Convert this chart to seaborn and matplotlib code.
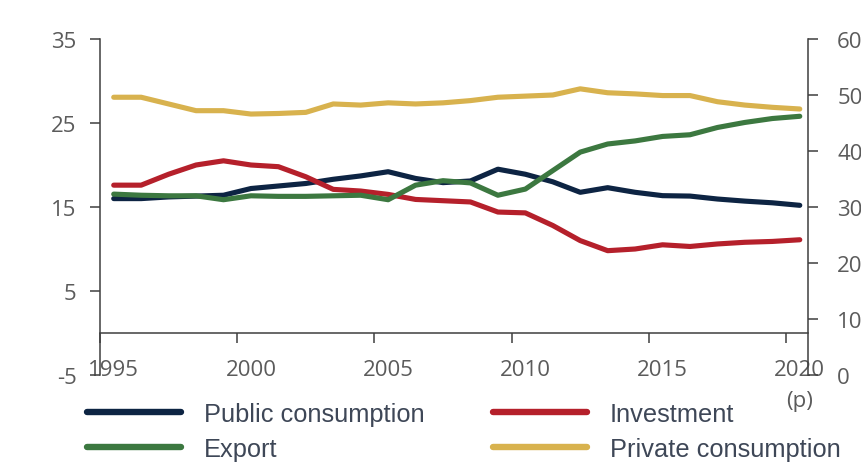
import numpy as np
import matplotlib
matplotlib.use("Agg")
import matplotlib.pyplot as plt
import seaborn as sns

# Annual series, 1995-2020 (2020 provisional)
years = list(range(1995, 2021))
public_consumption = [16.0, 16.0, 16.2, 16.3, 16.4, 17.2, 17.5, 17.8, 18.3, 18.7,
                      19.2, 18.4, 17.9, 18.1, 19.5, 18.9, 18.0, 16.75, 17.3, 16.75,
                      16.35, 16.3, 15.95, 15.7, 15.5, 15.2]
investment = [17.6, 17.6, 18.9, 20.0, 20.5, 20.0, 19.8, 18.6, 17.1, 16.9,
              16.5, 15.9, 15.75, 15.6, 14.4, 14.3, 12.8, 11.0, 9.8, 10.0,
              10.5, 10.3, 10.6, 10.8, 10.9, 11.1]
export = [32.3, 32.1, 32.0, 32.0, 31.3, 32.0, 31.9, 31.9, 32.0, 32.1,
          31.3, 33.9, 34.7, 34.3, 32.1, 33.2, 36.5, 39.8, 41.25, 41.8,
          42.6, 42.9, 44.2, 45.1, 45.8, 46.2]
private_consumption = [49.6, 49.6, 48.4, 47.2, 47.2, 46.6, 46.7, 46.9, 48.4, 48.2,
                       48.6, 48.4, 48.6, 49.0, 49.6, 49.8, 50.0, 51.1, 50.4, 50.2,
                       49.9, 49.9, 48.8, 48.2, 47.8, 47.5]

tick_years = [1995, 2000, 2005, 2010, 2015, 2020]
tick_labels = ["1995", "2000", "2005", "2010", "2015", "2020\n(p)"]
left_ticks = [-5, 5, 15, 25, 35]
right_ticks = [0, 10, 20, 30, 40, 50, 60]

NAVY = "#0d2443"
RED = "#b5202b"
GREEN = "#3c7840"
GOLD = "#d8b24e"
SPINE = "#3f3f3f"
TICK_TXT = "#5b5b5b"
LEGEND_TXT = "#3e4757"

sns.set_style("white")
plt.rcParams["font.family"] = ["Open Sans", "DejaVu Sans"]
plt.rcParams["axes.unicode_minus"] = False

fig = plt.figure(figsize=(8.61, 4.64), dpi=100)
W, H = 861, 464
ax = fig.add_axes([100 / W, 1 - 376 / H, (808 - 100) / W, (376 - 40) / H])
ax2 = ax.twinx()

# values are annual averages, plotted at mid-year
xpos = [y + 0.5 for y in years]
lw = 3.7
sns.lineplot(x=xpos, y=public_consumption, ax=ax, color=NAVY, linewidth=lw,
             solid_capstyle="round", label="Public consumption", legend=False)
sns.lineplot(x=xpos, y=investment, ax=ax, color=RED, linewidth=lw,
             solid_capstyle="round", label="Investment", legend=False)
sns.lineplot(x=xpos, y=export, ax=ax2, color=GREEN, linewidth=lw,
             solid_capstyle="round", label="Export", legend=False)
sns.lineplot(x=xpos, y=private_consumption, ax=ax2, color=GOLD, linewidth=lw,
             solid_capstyle="round", label="Private consumption", legend=False)

ax.set_xlim(1995, 2020.8)
ax.set_ylim(-5, 35)
ax2.set_ylim(0, 60)

for a in (ax, ax2):
    a.set_facecolor("none")
    for s in a.spines.values():
        s.set_color(SPINE)
        s.set_linewidth(1.1)
    a.spines["top"].set_visible(False)
ax.spines["right"].set_visible(False)
ax2.spines["left"].set_visible(False)
ax2.spines["bottom"].set_visible(False)
ax.spines["bottom"].set_position(("data", 0))

# major ticks mark the year boundary, labels sit at mid-year
ax.set_xticks(tick_years)
ax.set_xticklabels([])
ax.set_xticks([y + 0.5 for y in tick_years], minor=True)
ax.set_xticklabels(tick_labels, minor=True, linespacing=1.6)
ax.tick_params(axis="x", which="major", direction="out", length=7, width=1.1,
               color=SPINE, bottom=True)
ax.tick_params(axis="x", which="minor", length=0, pad=19, labelsize=16,
               labelcolor=TICK_TXT)

ax.set_yticks(left_ticks)
ax.tick_params(axis="y", direction="out", length=7, width=1.1, color=SPINE,
               left=True, pad=10, labelsize=16, labelcolor=TICK_TXT)
ax2.set_yticks(right_ticks)
ax2.tick_params(axis="y", direction="out", length=7, width=1.1, color=SPINE,
                right=True, pad=14, labelsize=16, labelcolor=TICK_TXT)
ax.set_xlabel("")
ax.set_ylabel("")
ax2.set_ylabel("")

h1, l1 = ax.get_legend_handles_labels()
h2, l2 = ax2.get_legend_handles_labels()
handles = [h1[0], h2[0], h1[1], h2[1]]
labels = [l1[0], l2[0], l1[1], l2[1]]
leg = fig.legend(handles, labels, ncol=2, loc="upper left",
                 bbox_to_anchor=(87 / W, 1 - 403 / H), frameon=False,
                 handlelength=3.7, handletextpad=0.9, columnspacing=2.7,
                 labelspacing=0.43, borderpad=0, borderaxespad=0,
                 prop={"family": "Liberation Sans", "size": 18.3})
for t in leg.get_texts():
    t.set_color(LEGEND_TXT)
for lh in leg.get_lines():
    lh.set_linewidth(4.6)
    lh.set_solid_capstyle("round")

fig.savefig("out.png", dpi=100, facecolor="white")
